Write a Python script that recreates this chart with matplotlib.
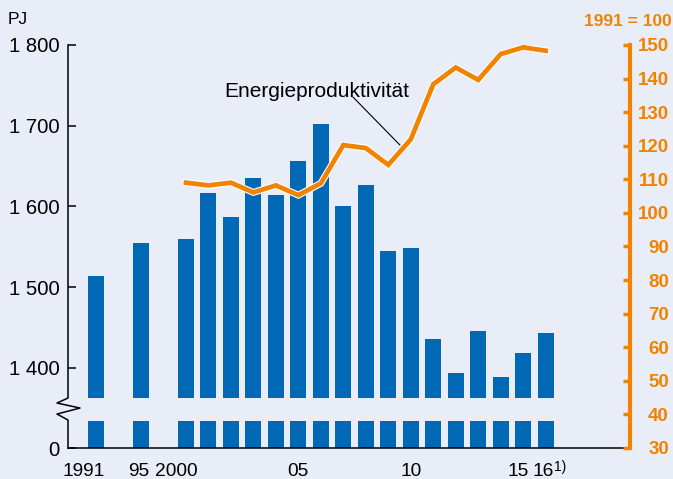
import numpy as np
import matplotlib
matplotlib.use('Agg')
import matplotlib.pyplot as plt
import matplotlib.patheffects as pe
import matplotlib.transforms as mtransforms

# data
years = [1991, 1995] + list(range(2000, 2017))
energy_pj = [1514, 1555, 1560, 1616, 1587, 1635, 1614, 1656, 1702, 1601, 1626,
             1545, 1548, 1435, 1393, 1445, 1388, 1418, 1443]
prod_years = list(range(2000, 2017))
productivity = [109.0, 108.2, 109.0, 106.1, 108.2, 105.3, 108.8, 120.2, 119.3,
                114.3, 121.9, 138.3, 143.3, 139.6, 147.3, 149.3, 148.3]
xtick_years = [1991, 1995, 2000, 2005, 2010, 2015, 2016]
xtick_labels = ['1991', '95', '2000', '05', '10', '15', '16']
left_ticks = [1400, 1500, 1600, 1700, 1800]
left_labels = ['1 400', '1 500', '1 600', '1 700', '1 800']
right_ticks = list(range(30, 151, 10))

BG = '#e9edf8'
BLUE = '#0068b4'
ORANGE = '#f08300'
ZERO = 1300.5          # where "0" sits on the broken axis
GAP = (1334, 1362)     # break in the bars

plt.rcParams['font.family'] = ['Liberation Sans', 'DejaVu Sans']


def pos(y):
    # 1991 and 1995 are squeezed together, yearly slots from 2000 on
    return (y - 1991) / 2 if y < 2000 else y - 1996


fig = plt.figure(figsize=(6.73, 4.79), dpi=100, facecolor=BG)
ax = fig.add_axes([68 / 673, 1 - 448 / 479, 562 / 673, 403 / 479])
ax.set_facecolor(BG)

xs = [pos(y) for y in years]
ax.bar(xs, np.array(energy_pj) - ZERO, bottom=ZERO, width=0.71, color=BLUE, zorder=2)
ax.axhspan(GAP[0], GAP[1], color=BG, zorder=3, lw=0)

ax.set_xlim(-1.245, 23.75)
ax.set_ylim(ZERO, 1800)

ax.set_yticks([ZERO] + left_ticks)
ax.set_yticklabels(['0'] + left_labels)
ax.tick_params(axis='y', direction='in', length=6, width=1.1, pad=6, labelsize=14.6)
ax.set_xticks([pos(y) for y in xtick_years])
ax.set_xticklabels(xtick_labels)
ax.tick_params(axis='x', length=0, pad=11, labelsize=13.8)
# small horizontal nudges of the year labels (pixels), as in the original
shifts = [-12, -2.5, -9.5, 0, 0, -5, -2]
for lbl, dx in zip(ax.get_xticklabels(), shifts):
    lbl.set_transform(lbl.get_transform() + mtransforms.ScaledTranslation(dx / 100, 0, fig.dpi_scale_trans))
# footnote mark on 2016
ax.annotate('1)', xy=(pos(2016), 0), xycoords=('data', 'axes fraction'),
            xytext=(6, -9), textcoords='offset points', fontsize=10,
            ha='left', va='top')

for s in ['top', 'right', 'left']:
    ax.spines[s].set_visible(False)
ax.spines['bottom'].set_linewidth(1.1)

# left spine with break mark
trans = mtransforms.blended_transform_factory(ax.transAxes, ax.transData)
def py(p):
    return 1800 - (p - 45) / 0.80675
w = 562.0
zx = [0, 0, -11 / w, 12 / w, -11 / w, 0, 0]
zy = [1800, py(398), py(403), py(408), py(414), py(420), ZERO]
ax.plot(zx, zy, color='black', lw=1.1, transform=trans, clip_on=False, zorder=5)

# right axis: energy productivity
ax2 = ax.twinx()
ax2.set_ylim(30, 150)
ax2.set_yticks(right_ticks)
ax2.tick_params(axis='y', direction='in', length=5, width=2.5, color=ORANGE,
                labelcolor=ORANGE, labelsize=13.5, pad=28)
for t in ax2.get_yticklabels():
    t.set_fontweight('bold')
    t.set_horizontalalignment('right')
for s in ['top', 'left', 'bottom']:
    ax2.spines[s].set_visible(False)
ax2.spines['right'].set_color(ORANGE)
ax2.spines['right'].set_linewidth(3)

ax2.plot([pos(y) for y in prod_years], productivity, color=ORANGE, lw=3.4,
         solid_joinstyle='miter',
         path_effects=[pe.Stroke(linewidth=5, foreground='white'), pe.Normal()], zorder=4)

ax2.text(9.81, 136.1, 'Energieproduktivität', fontsize=15, ha='center', va='center')
ax2.annotate('', xy=(13.52, 120.2), xytext=(11.43, 134.5),
             arrowprops=dict(arrowstyle='-', lw=0.8, color='black', shrinkA=0, shrinkB=0))

fig.text(8 / 673, 1 - 19 / 479, 'PJ', fontsize=12.5, va='center')
fig.text(672 / 673, 1 - 21 / 479, '1991 = 100', fontsize=12.5, fontweight='bold',
         color=ORANGE, ha='right', va='center')

fig.savefig('out.png', dpi=100, facecolor=BG)
